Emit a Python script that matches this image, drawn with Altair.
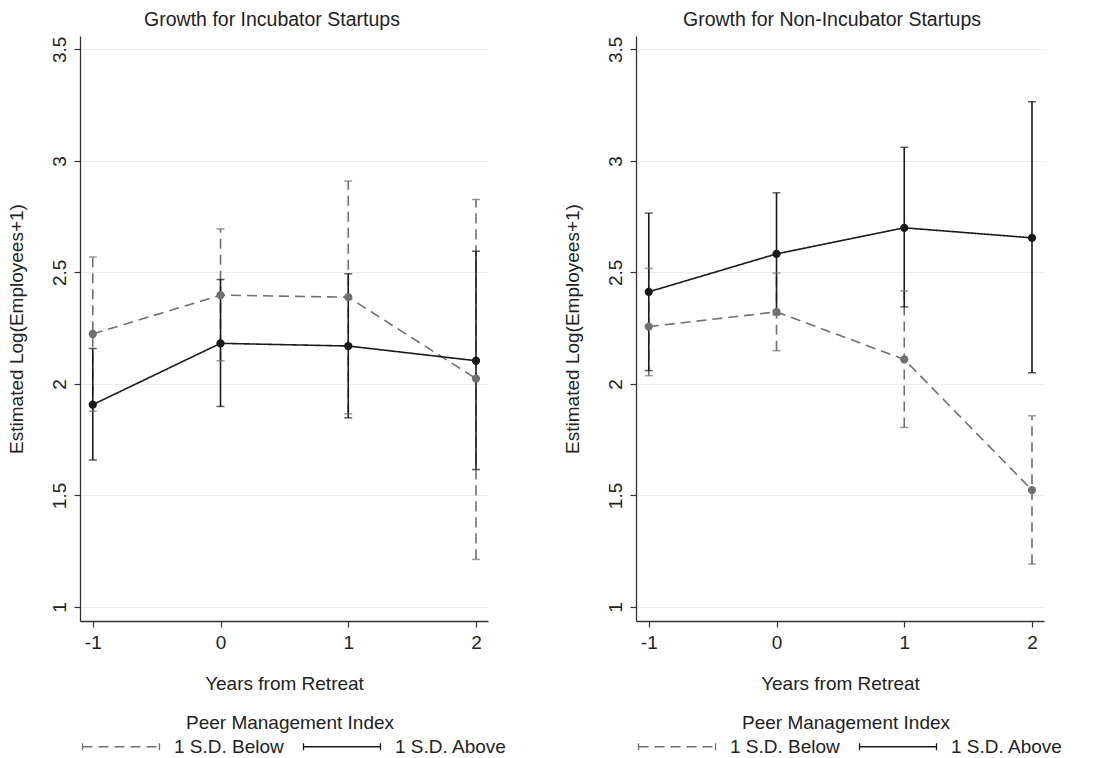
import altair as alt
import pandas as pd

# ---------------- data ----------------
years = [-1, 0, 1, 2]
series_names = ["1 S.D. Below", "1 S.D. Above"]

# Incubator startups
inc_below_est = [2.224, 2.398, 2.389, 2.024]
inc_below_lo = [1.878, 2.104, 1.866, 1.213]
inc_below_hi = [2.569, 2.695, 2.910, 2.827]
inc_above_est = [1.907, 2.182, 2.170, 2.104]
inc_above_lo = [1.659, 1.899, 1.848, 1.616]
inc_above_hi = [2.159, 2.468, 2.494, 2.595]

# Non-incubator startups
non_below_est = [2.257, 2.323, 2.110, 1.524]
non_below_lo = [2.037, 2.149, 1.805, 1.192]
non_below_hi = [2.518, 2.497, 2.417, 1.857]
non_above_est = [2.413, 2.583, 2.700, 2.655]
non_above_lo = [2.060, 2.310, 2.345, 2.050]
non_above_hi = [2.766, 2.857, 3.061, 3.265]

y_ticks = [1, 1.5, 2, 2.5, 3, 3.5]

# ---------------- style ----------------
FONT = "Liberation Sans"
TXT = "#222222"
BLACK = "#1a1a1a"
GRAY = "#707070"
W, H = 408, 585


def make_df(b_est, b_lo, b_hi, a_est, a_lo, a_hi):
    rows = []
    for i, yr in enumerate(years):
        rows.append({"year": yr, "series": series_names[0], "est": b_est[i], "lo": b_lo[i], "hi": b_hi[i]})
    for i, yr in enumerate(years):
        rows.append({"year": yr, "series": series_names[1], "est": a_est[i], "lo": a_lo[i], "hi": a_hi[i]})
    return pd.DataFrame(rows)


def x_enc():
    return alt.X(
        "year:Q",
        scale=alt.Scale(domain=[-1.1, 2.094], nice=False, zero=False),
        axis=alt.Axis(
            values=years,
            labelExpr="'' + datum.value",
            title="Years from Retreat",
            grid=False,
            titlePadding=22,
            labelPadding=6,
        ),
    )


def y_enc(field):
    return alt.Y(
        field + ":Q",
        scale=alt.Scale(domain=[0.937, 3.56], nice=False, zero=False),
        axis=alt.Axis(
            values=y_ticks,
            labelExpr="'' + datum.value",
            title="Estimated Log(Employees+1)",
            labelAngle=270,
            labelAlign="center",
            labelBaseline="alphabetic",
            labelPadding=9,
            titlePadding=24,
            grid=True,
        ),
    )


def legend_spec():
    return alt.Legend(
        title="Peer Management Index",
        orient="none",
        legendX=-7,
        legendY=678,
        direction="horizontal",
        symbolType="M0,-0.7V0.7M0,0H15.4M15.4,-0.7V0.7",
        symbolSize=100,
        symbolStrokeWidth=1.3,
        symbolFillColor="transparent",
        labelOffset=82,
        columnPadding=10,
        titleAnchor="middle",
        titleFontSize=19,
        titleFontWeight="normal",
        titleFont=FONT,
        titleColor=TXT,
        titlePadding=4,
        titleLimit=500,
        labelLimit=300,
        labelFontSize=19,
        labelFont=FONT,
        labelColor=TXT,
    )


def stroke_enc():
    return alt.Stroke(
        "series:N",
        scale=alt.Scale(domain=series_names, range=[GRAY, BLACK]),
        legend=legend_spec(),
    )


def dash_enc():
    return alt.StrokeDash(
        "series:N",
        scale=alt.Scale(domain=series_names, range=[[10, 6], [1, 0]]),
        legend=legend_spec(),
    )


def fill_enc():
    return alt.Fill(
        "series:N",
        scale=alt.Scale(domain=series_names, range=[GRAY, BLACK]),
        legend=None,
    )


def panel(df, title, dx):
    base = alt.Chart(df)
    rules = base.mark_rule(strokeWidth=1.6).encode(
        x=x_enc(), y=y_enc("lo"), y2="hi:Q", stroke=stroke_enc(), strokeDash=dash_enc()
    )
    cap_lo = base.mark_tick(orient="horizontal", size=8, thickness=1.5).encode(
        x=x_enc(), y=y_enc("lo"), fill=fill_enc()
    )
    cap_hi = base.mark_tick(orient="horizontal", size=8, thickness=1.5).encode(
        x=x_enc(), y=y_enc("hi"), fill=fill_enc()
    )
    line = base.mark_line(strokeWidth=1.6).encode(
        x=x_enc(), y=y_enc("est"), stroke=stroke_enc(), strokeDash=dash_enc()
    )
    pts = base.mark_circle(size=68, opacity=1).encode(
        x=x_enc(), y=y_enc("est"), fill=fill_enc()
    )
    return (
        alt.layer(rules, cap_lo, cap_hi, line, pts)
        .properties(
            width=W,
            height=H,
            title=alt.TitleParams(
                title,
                anchor="middle",
                frame="group",
                fontSize=19.5,
                fontWeight="normal",
                font=FONT,
                color=TXT,
                offset=6,
                dx=dx,
            ),
        )
    )


left = panel(
    make_df(inc_below_est, inc_below_lo, inc_below_hi, inc_above_est, inc_above_lo, inc_above_hi),
    "Growth for Incubator Startups",
    -12,
)
right = panel(
    make_df(non_below_est, non_below_lo, non_below_hi, non_above_est, non_above_lo, non_above_hi),
    "Growth for Non-Incubator Startups",
    -8,
)

chart = (
    alt.hconcat(left, right, spacing=56)
    .resolve_scale(stroke="independent", strokeDash="independent", fill="independent")
    .resolve_legend(stroke="independent", strokeDash="independent")
    .properties(padding={"left": 7, "top": 9, "right": 0, "bottom": 0}, background="white")
    .configure_view(strokeWidth=0)
    .configure_axis(
        labelFont=FONT,
        titleFont=FONT,
        labelFontSize=19,
        titleFontSize=19,
        labelColor=TXT,
        titleColor=TXT,
        titleFontWeight="normal",
        domainColor="#333333",
        domainWidth=1.3,
        tickColor="#333333",
        tickWidth=1.2,
        tickSize=6,
        gridColor="#ebebeb",
        gridWidth=1,
    )
)

chart.save("out.html", embed_options={"renderer": "svg", "actions": False})
